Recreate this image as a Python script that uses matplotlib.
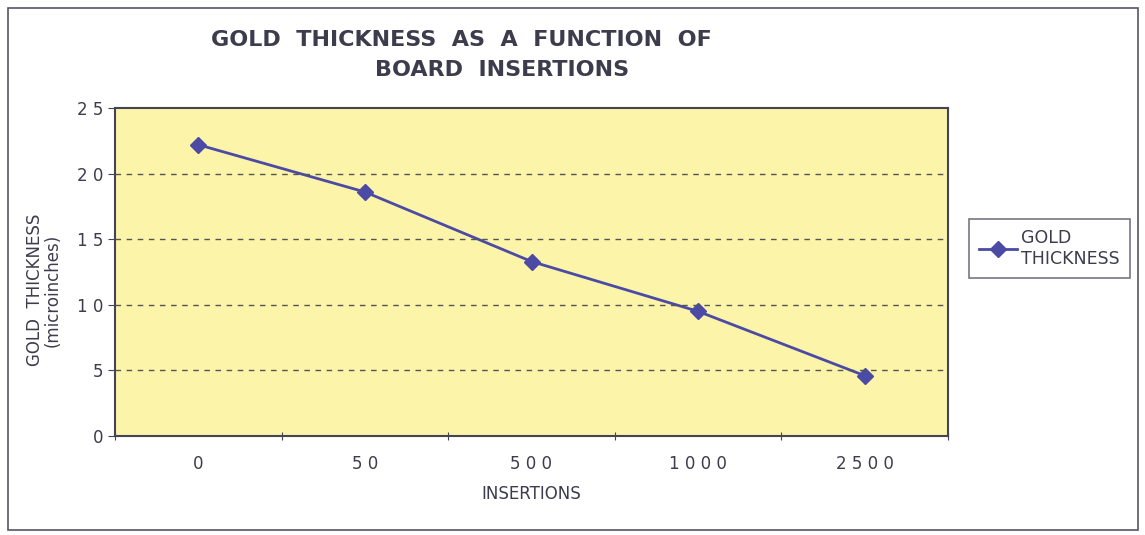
import matplotlib.pyplot as plt
from matplotlib.patches import Rectangle

insertions = ["0", "50", "500", "1000", "2500"]
thickness = [22.2, 18.6, 13.3, 9.5, 4.6]
y_ticks = [0, 5, 10, 15, 20, 25]

txt = "#3c3c4c"
line_c = "#4b4ba6"

fig = plt.figure(figsize=(11.45, 5.35), dpi=100)
fig.patch.set_facecolor("white")
fig.patches.append(Rectangle((8 / 1145, 5 / 535), 1130 / 1145, 522 / 535,
                             transform=fig.transFigure, fill=False,
                             edgecolor="#555566", linewidth=1.2))

ax = fig.add_axes([115 / 1145, 99 / 535, 833 / 1145, 328 / 535])
ax.set_facecolor("#fcf4a9")

xpos = [i + 0.5 for i in range(len(insertions))]
ax.plot(xpos, thickness, color=line_c, linewidth=2, marker="D", markersize=8,
        label="GOLD\nTHICKNESS")

ax.set_xlim(0, len(insertions))
ax.set_ylim(0, 25)
ax.set_yticks(y_ticks)
ax.set_yticklabels([" ".join(str(v)) for v in y_ticks])
ax.set_xticks(range(len(insertions) + 1))
ax.set_xticklabels([])
ax.set_xticks(xpos, minor=True)
ax.set_xticklabels([" ".join(s) for s in insertions], minor=True)
ax.tick_params(axis="x", which="minor", length=0, pad=14)
ax.tick_params(axis="x", which="major", length=6, direction="inout", color="#444455")
ax.tick_params(axis="y", length=5, direction="out", color="#444455")
ax.tick_params(axis="both", which="both", labelsize=12, labelcolor=txt)

for v in y_ticks[1:-1]:
    ax.axhline(v, color="#555555", linestyle=(0, (4, 4)), linewidth=1)

for s in ax.spines.values():
    s.set_color("#444455")
    s.set_linewidth(1.5)

ax.set_xlabel("INSERTIONS", fontsize=12, color=txt, labelpad=8)
ax.set_ylabel("GOLD  THICKNESS\n(microinches)", fontsize=12, color=txt,
              linespacing=1.0)
ax.yaxis.set_label_coords(-0.064, 0.445)

fig.text(461 / 1145, 1 - 40 / 535, "GOLD  THICKNESS  AS  A  FUNCTION  OF",
         ha="center", va="center", fontsize=16, fontweight="bold", color=txt)
fig.text(502 / 1145, 1 - 70 / 535, "BOARD  INSERTIONS",
         ha="center", va="center", fontsize=16, fontweight="bold", color=txt)

leg = ax.legend(loc="upper left", bbox_to_anchor=(960 / 1145, 1 - 210 / 535),
                bbox_transform=fig.transFigure, fontsize=12.5, frameon=True,
                fancybox=False, edgecolor="#555566", handlelength=2.2,
                handletextpad=0.2, borderpad=0.6)
for t in leg.get_texts():
    t.set_color(txt)
leg.get_frame().set_linewidth(1.2)

fig.savefig("out.png", dpi=100)
